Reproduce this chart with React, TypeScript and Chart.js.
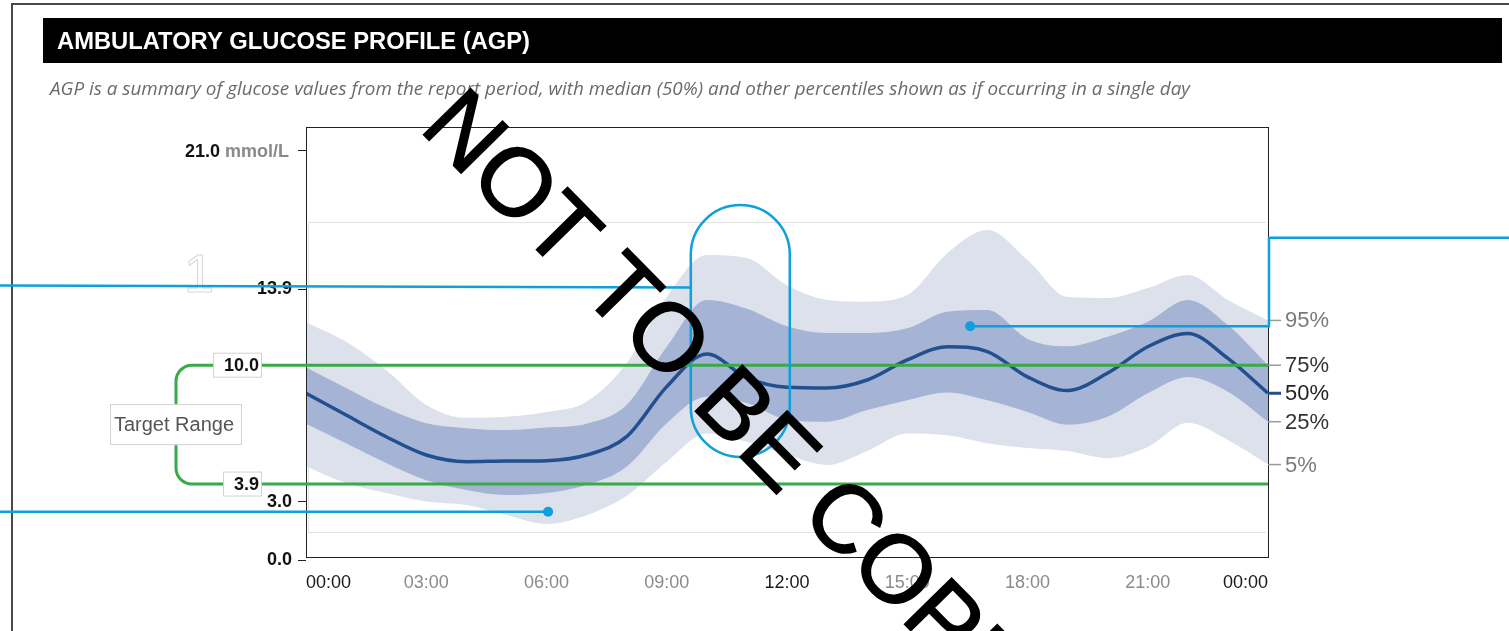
import React, { useEffect, useRef } from "react";
import { Chart, registerables } from "chart.js";

Chart.register(...registerables);

// ---------- data ----------
const HOURS = [0, 1, 2, 3, 4, 5, 6, 7, 8, 9, 10, 11, 12, 13, 14, 15, 16, 17, 18, 19, 20, 21, 22, 23, 24];
const P95 = [12.2, 11.2, 9.75, 7.96, 7.3, 7.36, 7.6, 8.13, 10.1, 13.5, 15.66, 15.5, 14.1, 13.35, 13.26, 13.6, 15.75, 16.94, 15.4, 13.5, 13.45, 13.96, 14.63, 13.35, 12.3];
const P75 = [9.9, 8.83, 7.8, 7.02, 6.77, 6.67, 6.8, 7.0, 7.96, 10.95, 13.35, 12.9, 12.0, 11.65, 11.65, 11.9, 12.75, 12.83, 11.35, 10.97, 11.46, 12.23, 13.35, 12.06, 10.0];
const P50 = [8.56, 7.44, 6.33, 5.39, 5.05, 5.08, 5.1, 5.39, 6.33, 8.9, 10.57, 9.35, 8.87, 8.83, 9.24, 10.27, 10.95, 10.7, 9.4, 8.7, 9.6, 10.95, 11.63, 10.35, 8.56];
const P25 = [7.0, 6.0, 4.98, 4.1, 3.6, 3.34, 3.44, 3.85, 4.79, 7.02, 8.38, 8.06, 7.2, 7.1, 7.7, 8.2, 8.6, 8.2, 7.6, 6.95, 7.36, 8.56, 9.4, 8.64, 7.1];
const P5 = [4.8, 3.95, 3.44, 3.0, 2.82, 2.31, 1.85, 2.3, 3.3, 5.05, 6.5, 6.07, 5.4, 4.88, 5.6, 6.5, 6.4, 6.0, 5.75, 5.6, 5.23, 5.8, 7.05, 6.16, 4.9];

const X_TICKS = [0, 3, 6, 9, 12, 15, 18, 21, 24];
const Y_TICKS = [0, 3, 13.9, 21];
const Y_MAX = 22.23;
const TARGET_LOW = 3.9;
const TARGET_HIGH = 10.0;
const PCT_LABELS = ["95%", "75%", "50%", "25%", "5%"];

const TITLE = "AMBULATORY GLUCOSE PROFILE (AGP)";
const SUBTITLE =
  "AGP is a summary of glucose values from the report period, with median (50%) and other percentiles shown as if occurring in a single day";
const UNIT = "mmol/L";
const TARGET_TEXT = "Target Range";
const WATERMARK = "NOT TO BE COPIED";

// annotation anchors (hours / mmol/L)
const INNER_BOX = [17.35, 1.44];
const PILL = { h0: 9.6, h1: 12.07, top: 18.22, bottom: 5.29 };
const CALLOUT_HIGH_LEVEL = 14.04;
const DOT_LOW = { h: 6.04, v: 2.48 };
const DOT_HIGH = { h: 16.57, v: 12.0, riser: 16.55 };

// ---------- styles ----------
const FONT = '"Liberation Sans", Arial, sans-serif';
const OUTER_BAND = "#dde1eb";
const IQR_BAND = "#a5b3d4";
const MEDIAN = "#22508f";
const GREEN = "#3aaa48";
const BLUE = "#0f9fdc";

const toPts = (arr: number[]) => HOURS.map((h, i) => ({ x: h, y: arr[i] }));
const fmtHour = (v: number) => `${String(v % 24).padStart(2, "0")}:00`;

const decor = {
  id: "decor",
  beforeDraw(chart: any) {
    const { ctx, width, height } = chart;
    const ys = chart.scales.y;
    const ca = chart.chartArea;
    ctx.save();
    ctx.fillStyle = "#fff";
    ctx.fillRect(0, 0, width, height);
    // outer border
    ctx.strokeStyle = "#4a4a4a";
    ctx.lineWidth = 2;
    ctx.beginPath();
    ctx.moveTo(12, height);
    ctx.lineTo(12, 4);
    ctx.lineTo(width, 4);
    ctx.stroke();
    // header bar
    ctx.fillStyle = "#000";
    ctx.fillRect(43, 18, 1459, 45);
    ctx.fillStyle = "#fff";
    ctx.font = `bold 23px ${FONT}`;
    ctx.textBaseline = "alphabetic";
    ctx.textAlign = "left";
    const tw = ctx.measureText(TITLE).width;
    ctx.save();
    ctx.translate(57, 49);
    ctx.scale(473 / tw, 1);
    ctx.fillText(TITLE, 0, 0);
    ctx.restore();
    // subtitle
    ctx.font = 'italic 18px "Open Sans", sans-serif';
    const w = ctx.measureText(SUBTITLE).width;
    ctx.save();
    ctx.translate(50, 95);
    ctx.scale(1140 / w, 1);
    ctx.fillStyle = "#6b6b6b";
    ctx.fillText(SUBTITLE, 0, 0);
    ctx.restore();
    // faint inner box
    ctx.strokeStyle = "#e3e3e3";
    ctx.lineWidth = 1;
    const t = Math.round(ys.getPixelForValue(INNER_BOX[0])) + 0.5;
    const b = Math.round(ys.getPixelForValue(INNER_BOX[1])) + 0.5;
    ctx.beginPath();
    ctx.moveTo(ca.right - 2, t);
    ctx.lineTo(ca.left + 2.5, t);
    ctx.lineTo(ca.left + 2.5, b);
    ctx.lineTo(ca.right - 2, b);
    ctx.stroke();
    // faint outlined "1"
    ctx.font = `54px ${FONT}`;
    ctx.strokeStyle = "#d6d6d6";
    ctx.lineWidth = 1;
    ctx.strokeText("1", 184, 292);
    ctx.restore();
  },
  afterDatasetsDraw(chart: any) {
    const { ctx } = chart;
    const ys = chart.scales.y;
    const xs = chart.scales.x;
    const ca = chart.chartArea;
    const px = (h: number) => xs.getPixelForValue(h);
    const py = (v: number) => ys.getPixelForValue(v);
    ctx.save();

    // plot frame
    ctx.strokeStyle = "#222";
    ctx.lineWidth = 1;
    ctx.strokeRect(ca.left + 0.5, ca.top + 0.5, ca.right - ca.left, ca.bottom - 3 - ca.top);

    // target range bracket + lines
    const yHi = py(TARGET_HIGH);
    const yLo = py(TARGET_LOW);
    const bx = 176;
    const r = 16;
    ctx.strokeStyle = GREEN;
    ctx.lineWidth = 3;
    ctx.beginPath();
    ctx.moveTo(ca.right, yHi);
    ctx.lineTo(bx + r, yHi);
    ctx.arcTo(bx, yHi, bx, yHi + r, r);
    ctx.lineTo(bx, yLo - r);
    ctx.arcTo(bx, yLo, bx + r, yLo, r);
    ctx.lineTo(ca.right, yLo);
    ctx.stroke();

    const box = (x0: number, x1: number, yc: number, h: number) => {
      ctx.fillStyle = "#fff";
      ctx.fillRect(x0, yc - h / 2, x1 - x0, h);
      ctx.strokeStyle = "#d2d2d2";
      ctx.lineWidth = 1;
      ctx.strokeRect(x0 + 0.5, yc - h / 2 + 0.5, x1 - x0 - 1, h - 1);
    };
    // target range label
    const midY = (yHi + yLo) / 2;
    box(110, 242, midY, 41);
    ctx.fillStyle = "#555";
    ctx.font = `20px ${FONT}`;
    ctx.textAlign = "center";
    ctx.textBaseline = "middle";
    ctx.fillText(TARGET_TEXT, 174, midY + 1);
    // target values
    box(213, 262, yHi, 25);
    box(223, 262, yLo, 25);
    ctx.fillStyle = "#111";
    ctx.font = `bold 18px ${FONT}`;
    ctx.textAlign = "right";
    ctx.fillText(TARGET_HIGH.toFixed(1), 259, yHi + 1);
    ctx.fillText(TARGET_LOW.toFixed(1), 259, yLo + 1);

    // top y label with unit
    const y21 = py(Y_TICKS[Y_TICKS.length - 1]);
    ctx.textAlign = "right";
    ctx.fillStyle = "#8a8a8a";
    ctx.font = `bold 18px ${FONT}`;
    ctx.fillText(UNIT, 289, y21 + 1);
    const uw = ctx.measureText(UNIT).width;
    ctx.fillStyle = "#111";
    ctx.fillText(Y_TICKS[Y_TICKS.length - 1].toFixed(1), 289 - uw - 5, y21 + 1);

    // percentile labels at right
    const last = [P95, P75, P50, P25, P5].map((a) => a[a.length - 1]);
    const colors = ["#7a7a7a", "#333", "#222", "#333", "#7a7a7a"];
    ctx.font = `22px ${FONT}`;
    ctx.textAlign = "left";
    last.forEach((v, i) => {
      const y = py(v);
      ctx.strokeStyle = i === 2 ? MEDIAN : "#9a9a9a";
      ctx.lineWidth = i === 2 ? 3 : 1.5;
      ctx.beginPath();
      ctx.moveTo(ca.right, y);
      ctx.lineTo(ca.right + 13, y);
      ctx.stroke();
      ctx.fillStyle = colors[i];
      ctx.fillText(PCT_LABELS[i], ca.right + 17, y + 1);
    });

    // blue annotations
    ctx.strokeStyle = BLUE;
    ctx.fillStyle = BLUE;
    ctx.lineWidth = 2.5;
    // pill
    const x0 = px(PILL.h0);
    const x1 = px(PILL.h1);
    const t = py(PILL.top);
    const b = py(PILL.bottom);
    const rad = (x1 - x0) / 2;
    ctx.beginPath();
    ctx.moveTo(x0, t + rad);
    ctx.arc(x0 + rad, t + rad, rad, Math.PI, 0);
    ctx.lineTo(x1, b - rad);
    ctx.arc(x0 + rad, b - rad, rad, 0, Math.PI);
    ctx.closePath();
    ctx.stroke();
    // line to pill
    const yc = py(CALLOUT_HIGH_LEVEL);
    ctx.beginPath();
    ctx.moveTo(0, yc - 1);
    ctx.lineTo(x0, yc + 1);
    ctx.stroke();
    // low dot line
    const dlx = px(DOT_LOW.h);
    const dly = py(DOT_LOW.v);
    ctx.beginPath();
    ctx.moveTo(0, dly);
    ctx.lineTo(dlx, dly);
    ctx.stroke();
    ctx.beginPath();
    ctx.arc(dlx, dly, 5, 0, Math.PI * 2);
    ctx.fill();
    // high dot line
    const dhx = px(DOT_HIGH.h);
    const dhy = py(DOT_HIGH.v);
    const ry = py(DOT_HIGH.riser);
    ctx.beginPath();
    ctx.moveTo(dhx, dhy);
    ctx.lineTo(ca.right + 1, dhy);
    ctx.lineTo(ca.right + 1, ry);
    ctx.lineTo(chart.width, ry);
    ctx.stroke();
    ctx.beginPath();
    ctx.arc(dhx, dhy, 5, 0, Math.PI * 2);
    ctx.fill();
    ctx.restore();
  },
  afterDraw(chart: any) {
    const { ctx } = chart;
    ctx.save();
    ctx.translate(418, 129.3);
    ctx.rotate((45.5 * Math.PI) / 180);
    ctx.font = `96px ${FONT}`;
    ctx.fillStyle = "#000";
    ctx.strokeStyle = "#000";
    ctx.lineWidth = 1.5;
    ctx.textAlign = "left";
    ctx.textBaseline = "alphabetic";
    ctx.fillText(WATERMARK, 0, 0);
    ctx.strokeText(WATERMARK, 0, 0);
    ctx.restore();
  },
};

export default function App() {
  const ref = useRef<HTMLCanvasElement>(null);
  useEffect(() => {
    document.body.style.margin = "0";
    const canvas = ref.current!;
    const band = { pointRadius: 0, borderWidth: 0, borderColor: "rgba(0,0,0,0)", cubicInterpolationMode: "monotone" as const };
    const chart = new Chart(canvas, {
      type: "line",
      data: {
        datasets: [
          { label: "50%", data: toPts(P50), borderColor: MEDIAN, borderWidth: 3.5, pointRadius: 0, fill: false, cubicInterpolationMode: "monotone" },
          { label: "75%", data: toPts(P75), ...band, backgroundColor: IQR_BAND, fill: "+1" },
          { label: "25%", data: toPts(P25), ...band, fill: false },
          { label: "95%", data: toPts(P95), ...band, backgroundColor: OUTER_BAND, fill: "+1" },
          { label: "5%", data: toPts(P5), ...band, fill: false },
        ],
      },
      options: {
        responsive: false,
        animation: false,
        devicePixelRatio: 1,
        events: [],
        layout: { padding: { left: 0, right: 241, top: 127, bottom: 0 } },
        plugins: { legend: { display: false }, tooltip: { enabled: false } },
        scales: {
          x: {
            type: "linear",
            min: 0,
            max: 24,
            afterBuildTicks: (s: any) => {
              s.ticks = X_TICKS.map((v) => ({ value: v }));
            },
            afterFit: (s: any) => {
              s.height = 71;
            },
            grid: { display: false, drawTicks: false },
            border: { display: false },
            ticks: {
              align: "inner",
              padding: 12,
              maxRotation: 0,
              autoSkip: false,
              font: { family: FONT, size: 18 },
              color: (c: any) => (c.tick && c.tick.value % 12 === 0 ? "#1a1a1a" : "#8a8a8a"),
              callback: (v: any) => fmtHour(Number(v)),
            },
          },
          y: {
            min: 0,
            max: Y_MAX,
            afterBuildTicks: (s: any) => {
              s.ticks = Y_TICKS.map((v) => ({ value: v }));
            },
            afterFit: (s: any) => {
              s.width = 306;
            },
            grid: { drawOnChartArea: false, drawTicks: true, tickLength: 8, color: "#222", lineWidth: 1 },
            border: { display: false },
            ticks: {
              padding: 6,
              font: { family: FONT, size: 18, weight: "bold" },
              color: "#111",
              callback: (v: any) => (Number(v) === Y_TICKS[Y_TICKS.length - 1] ? "" : Number(v).toFixed(1)),
            },
          },
        },
      },
      plugins: [decor],
    } as any);
    return () => chart.destroy();
  }, []);
  return <canvas ref={ref} width={1509} height={631} style={{ display: "block" }} />;
}
